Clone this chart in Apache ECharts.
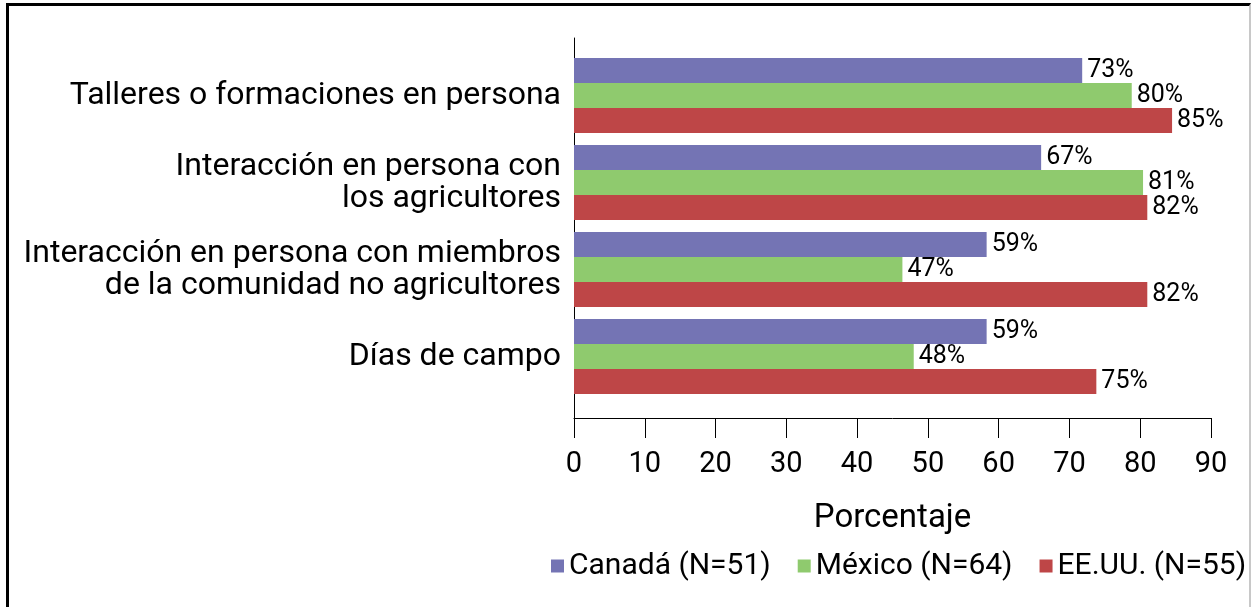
<!DOCTYPE html>
<html>
<head>
<meta charset="utf-8">
<script src="https://cdn.jsdelivr.net/npm/echarts@6/dist/echarts.min.js"></script>
<style>
  html, body { margin: 0; padding: 0; background: #fff; }
  #frame {
    position: absolute; left: 6px; top: 3px; width: 1240px; height: 640px;
    border-left: 3px solid #000; border-top: 3px solid #000; border-right: 2px solid #c8c8c8;
  }
  #chart { position: absolute; left: 0; top: 0; width: 1252px; height: 607px; }
</style>
</head>
<body>
<div id="frame"></div>
<div id="chart"></div>
<script>
const categories = [
  "Talleres o formaciones en persona",
  "Interacción en persona con\nlos agricultores",
  "Interacción en persona con miembros\nde la comunidad no agricultores",
  "Días de campo",
];
const seriesNames = ["Canadá (N=51)", "México (N=64)", "EE.UU. (N=55)"];
const colors = ["#7474b4", "#8fca6e", "#be4647"];

// bar lengths as drawn
const canada = [71.8, 66.0, 58.3, 58.3];
const mexico = [78.8, 80.4, 46.4, 48.0];
const eeuu = [84.5, 81.0, 81.0, 73.8];

// printed labels
const canadaLabels = ["73%", "67%", "59%", "59%"];
const mexicoLabels = ["80%", "81%", "47%", "48%"];
const eeuuLabels = ["85%", "82%", "82%", "75%"];

const xTicks = [0, 10, 20, 30, 40, 50, 60, 70, 80, 90];

const font = "Roboto, sans-serif";
const chart = echarts.init(document.getElementById("chart"));

function barSeries(name, values, labels, color) {
  return {
    name,
    type: "bar",
    barWidth: 25,
    barGap: "0%",
    itemStyle: { color },
    label: {
      show: true,
      position: "right",
      distance: 5,
      color: "#000",
      fontSize: 25,
      fontFamily: font,
      formatter: (p) => labels[p.dataIndex],
    },
    data: values,
  };
}

chart.setOption({
  animation: false,
  textStyle: { fontFamily: font },
  grid: [
    { left: 574, right: 41, top: 52, bottom: 207 },
    { left: 574, right: 41, top: 38, bottom: 189 },
  ],
  legend: {
    left: 551,
    top: 551,
    width: 700,
    padding: 0,
    icon: "rect",
    itemWidth: 13,
    itemHeight: 13,
    itemGap: 27,
    textStyle: { fontSize: 30, color: "#000", fontFamily: font },
    data: seriesNames,
  },
  xAxis: [
    {
      type: "value",
      gridIndex: 0,
      min: xTicks[0],
      max: xTicks[xTicks.length - 1],
      interval: 10,
      offset: 18,
      axisLine: { show: true, lineStyle: { color: "#000", width: 1 } },
      axisTick: { show: true, length: 20, lineStyle: { color: "#000" } },
      axisLabel: { color: "#000", fontSize: 29, margin: 32, fontFamily: font },
      splitLine: { show: false },
      name: "Porcentaje",
      nameLocation: "middle",
      nameGap: 84,
      nameTextStyle: { color: "#000", fontSize: 33, fontFamily: font },
    },
    { type: "value", gridIndex: 1, show: false, min: 0, max: 90 },
  ],
  yAxis: [
    {
      type: "category",
      gridIndex: 0,
      inverse: true,
      data: categories,
      axisLine: { show: false },
      axisTick: { show: false },
      axisLabel: {
        color: "#000",
        fontSize: 32,
        lineHeight: 32,
        margin: 13,
        fontFamily: font,
        align: "right",
      },
    },
    {
      type: "value",
      gridIndex: 1,
      axisLine: { show: true, onZero: false, lineStyle: { color: "#000", width: 1 } },
      axisTick: { show: false },
      axisLabel: { show: false },
      splitLine: { show: false },
    },
  ],
  series: [
    barSeries(seriesNames[0], canada, canadaLabels, colors[0]),
    barSeries(seriesNames[1], mexico, mexicoLabels, colors[1]),
    barSeries(seriesNames[2], eeuu, eeuuLabels, colors[2]),
  ],
});
</script>
</body>
</html>
